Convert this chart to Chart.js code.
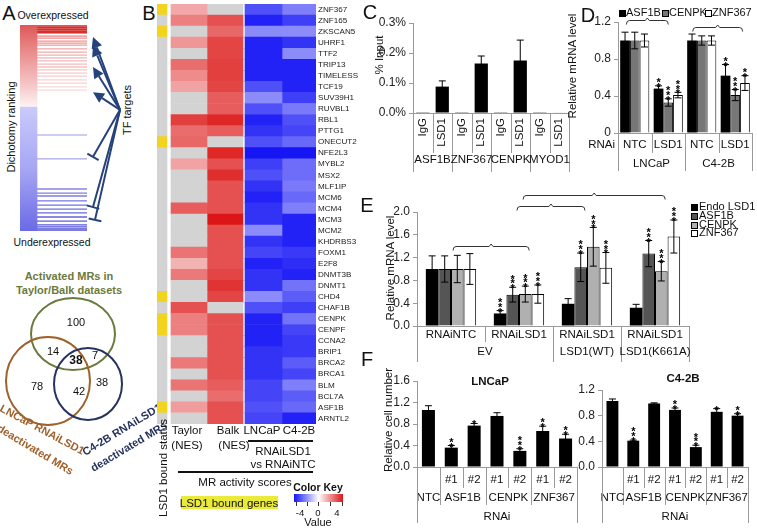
<!DOCTYPE html>
<html><head><meta charset="utf-8">
<script src="https://cdn.jsdelivr.net/npm/chart.js@4.4.1/dist/chart.umd.min.js"></script>
<style>
html,body{margin:0;padding:0;background:#fff}
#root{position:relative;width:757px;height:529px;overflow:hidden;font-family:'Liberation Sans',Arial,sans-serif;color:#111}
canvas{position:absolute}
.t{position:absolute;white-space:nowrap;line-height:1.05}
.hl{position:absolute;background:#111}
</style></head><body><div id="root"></div>
<script>
// ================= DATA =================
// Panel A: dichotomy ranking (rank 0 = most overexpressed, 500 = most underexpressed)
const tfTargetRanksUp = [2,5,7,10,12,15,17,19,27,32,39,44,49,58,66,73,80,87,95,102,109,117,124,133,141,150,158];
const tfTargetRanksDown = [267,325,398,408,415,427,437,447,456,466,476,485,490,495,498];
const tfArrowRanks = [29,49,102,163];       // activated targets (arrow heads)
const tfRepressRanks = [320,442,473];       // repressed targets (T bars)
// Panel B heatmap
const genes = ['ZNF367','ZNF165','ZKSCAN5','UHRF1','TTF2','TRIP13','TIMELESS','TCF19','SUV39H1','RUVBL1','RBL1','PTTG1','ONECUT2','NFE2L3','MYBL2','MSX2','MLF1IP','MCM6','MCM4','MCM3','MCM2','KHDRBS3','FOXM1','E2F8','DNMT3B','DNMT1','CHD4','CHAF1B','CENPK','CENPF','CCNA2','BRIP1','BRCA2','BRCA1','BLM','BCL7A','ASF1B','ARNTL2'];
const lsd1Bound = [1,0,1,0,0,0,0,0,0,0,0,0,1,0,0,0,0,0,0,0,0,0,0,0,0,0,1,0,1,1,0,0,0,0,0,0,1,0];
const taylorNES = [1.5,2.2,null,1.8,null,2.5,2.0,1.6,null,null,3.3,2.5,2.6,null,1.6,null,null,null,2.8,null,null,null,2.4,1.3,2.3,null,null,3.0,2.2,2.2,null,null,2.3,null,2.4,null,1.7,null];
const balkNES = [null,3.0,2.6,3.2,3.2,3.3,3.3,3.2,2.8,2.8,3.7,2.8,null,3.7,3.0,3.6,3.0,3.0,3.0,4.0,3.0,3.0,3.0,3.0,3.2,3.5,3.2,null,3.0,3.0,3.0,3.0,3.0,3.0,2.8,2.5,3.0,3.0];
const lncapScore = [-3.0,-3.8,-2.0,-3.8,-3.8,-3.8,-3.8,-3.0,-2.0,-3.0,-3.8,-3.5,-3.0,-4.0,-3.3,-3.0,-3.5,-3.8,-3.5,-3.5,-2.0,-3.5,-3.2,-3.8,-3.5,-3.5,-2.0,-3.0,-3.8,-3.8,-3.8,-3.5,-3.5,-3.5,-3.2,-3.2,-3.0,-3.2];
const c42bScore = [-2.2,-3.3,-2.0,-3.5,-2.0,-3.8,-3.8,-3.8,-3.3,-2.3,-3.0,-3.2,-2.6,-4.0,-2.5,-2.5,-2.3,-2.6,-2.2,-3.8,-3.8,-3.8,-3.4,-3.6,-3.8,-2.4,-2.8,-3.3,-2.4,-3.2,-3.4,-3.4,-2.8,-3.2,-2.2,-2.8,-2.6,-3.8];
// Venn counts: T only, T&L, all, T&C, L only, L&C, C only
const vennCounts = [100,14,38,7,78,42,38];
// Panel C: ChIP
const chipTargets = ['ASF1B','ZNF367','CENPK','MYOD1'];
const chipAntibodies = ['IgG','LSD1','IgG','LSD1','IgG','LSD1','IgG','LSD1'];
const chipInput = [0.0008,0.088,0.0008,0.165,0.0008,0.175,0.0008,0.0015];
const chipErr = [0,0.019,0,0.025,0,0.068,0,0];
// Panel D
const dRnai = ['NTC','LSD1','NTC','LSD1'];
const dCells = ['LNCaP','C4-2B'];
const dASF1B = [1.0,0.48,1.0,0.62], dASF1BErr = [0.09,0.03,0.07,0.12], dASF1BStars = [0,2,0,2];
const dCENPK = [1.0,0.33,1.0,0.41], dCENPKErr = [0.09,0.04,0.05,0.06], dCENPKStars = [0,3,0,3];
const dZNF367 = [1.0,0.41,1.0,0.54], dZNF367Err = [0.07,0.03,0.05,0.08], dZNF367Stars = [0,3,0,2];
// Panel E
const eConditions = ['RNAiNTC','RNAiLSD1','RNAiLSD1','RNAiLSD1'];
const eVectors = ['EV','LSD1(WT)','LSD1(K661A)'];
const eEndo = [1.0,0.22,0.39,0.32], eEndoErr = [0.23,0.05,0.09,0.06], eEndoStars = [0,3,0,0];
const eASF1B = [1.0,0.55,1.03,1.27], eASF1BErr = [0.23,0.13,0.25,0.23], eASF1BStars = [0,3,3,3];
const eCENPK = [1.0,0.56,1.39,0.96], eCENPKErr = [0.24,0.14,0.34,0.17], eCENPKStars = [0,3,3,3];
const eZNF367 = [1.0,0.56,1.02,1.57], eZNF367Err = [0.27,0.16,0.27,0.29], eZNF367Stars = [0,3,3,3];
// Panel F
const fGenes = ['NTC','ASF1B','ASF1B','CENPK','CENPK','ZNF367','ZNF367'];
const fShRNA = ['','#1','#2','#1','#2','#1','#2'];
const fLNCaP = [1.06,0.36,0.77,0.95,0.30,0.67,0.53], fLNCaPErr = [0.08,0.04,0.04,0.06,0.04,0.09,0.08], fLNCaPStars = [0,2,1,0,3,2,2];
const fC42B = [1.03,0.41,0.99,0.89,0.31,0.86,0.80], fC42BErr = [0.03,0.01,0.01,0.03,0.03,0.05,0.03], fC42BStars = [0,3,0,2,3,1,2];

// ================= HELPERS =================
const FONT = "'Liberation Sans', Arial, sans-serif";
Chart.defaults.font.family = FONT;
Chart.defaults.color = '#222';
const root = document.getElementById('root');
function canvasAt(l,t,w,h){const c=document.createElement('canvas');c.width=w;c.height=h;c.style.left=l+'px';c.style.top=t+'px';c.style.width=w+'px';c.style.height=h+'px';root.appendChild(c);return c;}
function T(str,x,y,o={}){const d=document.createElement('div');d.className='t';d.textContent=str;d.style.left=x+'px';d.style.top=y+'px';d.style.fontSize=(o.size||11.5)+'px';if(o.bold)d.style.fontWeight='bold';if(o.color)d.style.color=o.color;const ax=o.align==='left'?'0':o.align==='right'?'-100%':'-50%';d.style.transform=`translate(${ax},-50%) rotate(${o.rot||0}deg)`;root.appendChild(d);return d;}
function HL(x,y,w,h,c){const d=document.createElement('div');d.className='hl';d.style.left=x+'px';d.style.top=y+'px';d.style.width=w+'px';d.style.height=h+'px';if(c)d.style.background=c;root.appendChild(d);return d;}
function mix(a,b,t){return 'rgb('+a.map((v,i)=>Math.round(v+(b[i]-v)*t)).join(',')+')';}
function heatColor(v){if(v===null)return '#d3d3d3';const t=Math.min(Math.abs(v)/4,1);return v>=0?mix([255,255,255],[220,22,22],t):mix([255,255,255],[22,22,245],t);}

const errPlugin={id:'errStars',afterDatasetsDraw(chart){
  const ctx=chart.ctx,y=chart.scales.y;
  chart.data.datasets.forEach((ds,di)=>{
    const meta=chart.getDatasetMeta(di);
    meta.data.forEach((bar,i)=>{
      const v=ds.data[i],e=(ds.errors||[])[i]||0,x=bar.x;
      ctx.save();ctx.strokeStyle='#000';ctx.lineWidth=1;
      if(e>0){const yt=y.getPixelForValue(v+e),yb=y.getPixelForValue(v-e),cw=3.5;
        ctx.beginPath();ctx.moveTo(x,yt);ctx.lineTo(x,yb);ctx.moveTo(x-cw,yt);ctx.lineTo(x+cw,yt);ctx.moveTo(x-cw,yb);ctx.lineTo(x+cw,yb);ctx.stroke();}
      const n=(ds.stars||[])[i]||0;
      if(n){ctx.fillStyle='#000';ctx.font='bold 11px '+FONT;ctx.textAlign='center';ctx.textBaseline='alphabetic';
        const top=y.getPixelForValue(v+e);
        for(let k=0;k<n;k++)ctx.fillText('*',x,top+6-4.8*k-1);}
      ctx.restore();
    });
  });
}};
function tablePlugin(spec){return{id:'xtable',afterDraw(chart){
  const ctx=chart.ctx,xs=chart.scales.x,ca=chart.chartArea;
  const w=xs.getPixelForValue(1)-xs.getPixelForValue(0);
  const edge=i=>xs.getPixelForValue(0)+(i-0.5)*w;
  ctx.save();ctx.strokeStyle='#9a9a9a';ctx.lineWidth=1;
  ctx.beginPath();ctx.moveTo(ca.left,ca.bottom+0.5);ctx.lineTo(ca.right,ca.bottom+0.5);ctx.stroke();
  spec.rows.forEach(r=>{
    r.bounds.forEach(b=>{const x=Math.round(edge(b))+0.5;ctx.beginPath();ctx.moveTo(x,ca.bottom);ctx.lineTo(x,ca.bottom+r.lineTo);ctx.stroke();});
    ctx.fillStyle='#111';ctx.font=(r.size||11.5)+'px '+FONT;
    r.cells.forEach(c=>{const cx=(edge(c.from)+edge(c.to))/2,cy=ca.bottom+r.dy;
      if(r.rot){ctx.save();ctx.translate(cx,cy);ctx.rotate(-Math.PI/2);ctx.textAlign='right';ctx.textBaseline='middle';ctx.fillText(c.text,0,0);ctx.restore();}
      else{ctx.textAlign='center';ctx.textBaseline='middle';ctx.fillText(c.text,cx,cy);}});
  });
  (spec.extra||[]).forEach(e=>{ctx.font='11.5px '+FONT;ctx.textAlign='right';ctx.textBaseline='middle';ctx.fillText(e.text,ca.left+e.dx,ca.bottom+e.dy);});
  ctx.restore();
}};}
function bracketPlugin(list){return{id:'brackets',afterDraw(chart){
  const ctx=chart.ctx,xs=chart.scales.x,y=chart.scales.y;
  const w=xs.getPixelForValue(1)-xs.getPixelForValue(0);
  const cx=f=>xs.getPixelForValue(0)+f*w;
  ctx.save();ctx.strokeStyle='#333';ctx.lineWidth=1;
  list.forEach(b=>{const x0=cx(b.from),x1=cx(b.to),yy=Math.round(y.getPixelForValue(b.v))+0.5,m=(x0+x1)/2;
    ctx.beginPath();ctx.moveTo(x0,yy+4);ctx.quadraticCurveTo(x0,yy,x0+3,yy);ctx.lineTo(m-2,yy);ctx.lineTo(m,yy-2.5);ctx.lineTo(m+2,yy);ctx.lineTo(x1-3,yy);ctx.quadraticCurveTo(x1,yy,x1,yy+4);ctx.stroke();});
  ctx.restore();
}};}
function barPanel(o){
  const cv=canvasAt(o.box[0],o.box[1],o.box[2],o.box[3]);
  return new Chart(cv,{type:'bar',data:{labels:o.labels,datasets:o.datasets},
    options:{responsive:false,devicePixelRatio:1,animation:false,
      layout:{padding:{top:o.padT||12,right:o.padR,bottom:o.padB,left:0}},
      datasets:{bar:{categoryPercentage:o.catPct,barPercentage:o.barPct}},
      scales:{x:{display:false},
        y:{min:0,max:o.ymax,afterFit:s=>{s.width=o.yw;},
          ticks:{stepSize:o.step,callback:o.fmt,font:{size:o.fs||12},color:'#222',padding:3},
          grid:{drawOnChartArea:false,drawTicks:true,tickLength:4,color:'#9a9a9a'},border:{display:true,color:'#9a9a9a'}}},
      plugins:{legend:{display:false},tooltip:{enabled:false}}},
    plugins:[errPlugin,tablePlugin(o.table),bracketPlugin(o.brackets||[])]});
}
function ds(label,data,err,stars,color){return {label,data,errors:err,stars,backgroundColor:color,borderColor:'#000',borderWidth:color==='#000'?0:1};}

// ================= PANEL A =================
T('A',9,13,{size:20});
T('Overexpressed',53,16,{size:10.5});
T('Underexpressed',52,243,{size:10.5});
T('Dichotomy ranking',12,127,{size:11,rot:-90});
T('TF targets',128,110,{size:11,rot:-90});
(function(){
  const cv=canvasAt(10,13,120,230);
  const origin={x:100,rank:206};
  const arrowsPlugin={id:'tfArrows',afterDatasetsDraw(chart){
    const {ctx,scales:{x,y}}=chart;const ox=x.getPixelForValue(origin.x),oy=y.getPixelForValue(origin.rank);
    ctx.save();ctx.strokeStyle=ctx.fillStyle='#26427c';ctx.lineWidth=2;
    const items=tfArrowRanks.map(r=>({r,act:true,tx:73})).concat(tfRepressRanks.map((r,i)=>({r,act:false,tx:[73,73,75][i]})));
    items.forEach(a=>{const tx=x.getPixelForValue(a.tx),ty=y.getPixelForValue(a.r),ang=Math.atan2(ty-oy,tx-ox),s=Math.sin(ang),c=Math.cos(ang);
      ctx.beginPath();ctx.moveTo(ox,oy);
      if(a.act){const L=11,W=5.5,bx=tx-L*c,by=ty-L*s;ctx.lineTo(bx,by);ctx.stroke();ctx.beginPath();ctx.moveTo(tx,ty);ctx.lineTo(bx+W*s,by-W*c);ctx.lineTo(bx-W*s,by+W*c);ctx.closePath();ctx.fill();}
      else{ctx.lineTo(tx,ty);ctx.stroke();const W=6.5;ctx.beginPath();ctx.moveTo(tx+W*s,ty-W*c);ctx.lineTo(tx-W*s,ty+W*c);ctx.stroke();}});
    ctx.restore();}};
  const lineColor=r=>r<199?(r<22?'rgb(212,32,32)':mix([232,120,120],[252,236,236],Math.pow((r-22)/177,0.6))):mix([205,205,245],[80,80,215],Math.pow((r-199)/301,1.3));
  const pts=tfTargetRanksUp.concat(tfTargetRanksDown);
  new Chart(cv,{type:'bar',data:{datasets:[
    {type:'bar',data:[{x:8.5,y:[0,500]}],barThickness:17,backgroundColor:(c)=>{const ch=c.chart,ys=ch.scales.y;if(!ys||!ch.chartArea)return '#ccc';
      const g=ch.ctx.createLinearGradient(0,ys.getPixelForValue(0),0,ys.getPixelForValue(500));
      g.addColorStop(0,'#de5858');g.addColorStop(0.12,'#e88888');g.addColorStop(0.3,'#f6caca');g.addColorStop(0.395,'#fdf2f2');g.addColorStop(0.398,'#cacafb');g.addColorStop(0.7,'#a6a6f4');g.addColorStop(1,'#6a6ae6');return g;}},
    {type:'scatter',data:pts.map(r=>({x:42,y:r})),pointStyle:'line',pointRadius:25,pointBorderWidth:1.3,pointBorderColor:pts.map(lineColor),clip:false}
  ]},options:{responsive:false,devicePixelRatio:1,animation:false,layout:{autoPadding:false,padding:{top:12,bottom:12,left:10,right:0}},
    scales:{x:{type:'linear',min:0,max:110,offset:false,display:false,grid:{offset:false}},y:{type:'linear',min:0,max:500,reverse:true,offset:false,beginAtZero:false,display:false}},
    plugins:{legend:{display:false},tooltip:{enabled:false}}},plugins:[arrowsPlugin]});
})();

// Venn
T('Activated MRs in',69,277,{size:11,bold:true,color:'#6b7a3d'});
T('Taylor/Balk datasets',69,291,{size:11,bold:true,color:'#6b7a3d'});
(function(){
  const cv=canvasAt(0,270,160,259);
  const sets=[{cx:73,cy:334,rx:42,ry:36,c:'#6b7a3d'},{cx:48,cy:381,rx:42,ry:44,c:'#a0612b'},{cx:88,cy:384,rx:34,ry:36,c:'#27335e'}];
  const labelPos=[[76,323],[53,352],[76,361],[95,356],[37,387],[79,392],[102,383]];
  const vennPlugin={id:'venn',afterDatasetsDraw(chart){const {ctx,scales:{x,y}}=chart;ctx.save();ctx.lineWidth=2;
    sets.forEach(s=>{ctx.strokeStyle=s.c;ctx.beginPath();ctx.ellipse(x.getPixelForValue(s.cx),y.getPixelForValue(s.cy),x.getPixelForValue(s.cx+s.rx)-x.getPixelForValue(s.cx),y.getPixelForValue(s.cy+s.ry)-y.getPixelForValue(s.cy),0,0,Math.PI*2);ctx.stroke();});
    const meta=chart.getDatasetMeta(0);ctx.fillStyle='#111';ctx.textAlign='center';ctx.textBaseline='middle';
    meta.data.forEach((p,i)=>{ctx.font=(i===2?'bold 12px ':'11px ')+FONT;ctx.fillText(String(vennCounts[i]),p.x,p.y);});ctx.restore();}};
  new Chart(cv,{type:'scatter',data:{datasets:[{data:labelPos.map(p=>({x:p[0],y:p[1]})),pointRadius:0}]},
    options:{responsive:false,devicePixelRatio:1,animation:false,layout:{autoPadding:false,padding:0},
      scales:{x:{type:'linear',min:0,max:160,display:false},y:{type:'linear',min:270,max:529,reverse:true,display:false}},
      plugins:{legend:{display:false},tooltip:{enabled:false}}},plugins:[vennPlugin]});
})();
T('LNCaP RNAiLSD1',42,430,{size:11,bold:true,color:'#a0612b',rot:28});
T('deactivated MRs',35,450,{size:11,bold:true,color:'#a0612b',rot:31});
T('C4-2B RNAiLSD1',122,430,{size:11,bold:true,color:'#27335e',rot:-31});
T('deactivated MRs',129,447,{size:11,bold:true,color:'#27335e',rot:-31});

// ================= PANEL B =================
T('B',149,13,{size:20});
(function(){
  const cv=canvasAt(150,-4,210,436);
  const cols=[[0,1.0],[1.4,5.0],[5.0,8.6],[8.8,12.5],[12.5,15.9]];
  const mk=(span,colors)=>({data:genes.map(()=>span),backgroundColor:colors,borderWidth:0});
  new Chart(cv,{type:'bar',data:{labels:genes,datasets:[
    mk(cols[0],lsd1Bound.map(b=>b?'#f2d31e':'#d3d3d3')),
    mk(cols[1],taylorNES.map(heatColor)),
    mk(cols[2],balkNES.map(heatColor)),
    mk(cols[3],lncapScore.map(heatColor)),
    mk(cols[4],c42bScore.map(heatColor))]},
    options:{indexAxis:'y',responsive:false,devicePixelRatio:1,animation:false,
      layout:{padding:{top:8,bottom:8,left:7,right:0}},
      datasets:{bar:{grouped:false,categoryPercentage:1,barPercentage:1}},
      scales:{x:{type:'linear',min:0,max:15.9,display:false},
        y:{position:'right',afterFit:s=>{s.width=44;},grid:{display:false,drawTicks:false},border:{display:false},
          ticks:{autoSkip:false,padding:2,font:{size:8.1},color:'#222'}}},
      plugins:{legend:{display:false},tooltip:{enabled:false}}}});
})();
T('Taylor',187,430,{size:11.5});T('(NES)',187,445,{size:11.5});
T('Balk',228,430,{size:11.5});T('(NES)',234,445,{size:11.5});
T('LNCaP',262,430,{size:11.5});T('C4-2B',299,430,{size:11.5});
HL(248,440,65,1.5);
T('RNAiLSD1',283,451,{size:11.5});T('vs RNAiNTC',283,464,{size:11.5});
HL(178,471,135,1.5);
T('MR activity scores',245,482,{size:11.5});
T('LSD1 bound status',163,468,{size:11.5,rot:-90});
HL(181,496,97,13,'#eaea3a');
T('LSD1 bound genes',229,503,{size:11.5});
T('Color Key',318,488,{size:10.5,bold:true});
(function(){const d=HL(294,494,49,8);d.style.background='linear-gradient(to right,#1616f5,#ffffff 50%,#dc1616)';
  [296,307,318,330,342].forEach(x=>HL(x,502,1,4,'#333'));})();
T('-4',300,513,{size:9.5});T('0',318,513,{size:9.5});T('4',337,513,{size:9.5});
T('Value',318,523,{size:11});

// ================= PANEL C =================
T('C',370,12,{size:20});
T('% Input',379,55,{size:11.5,rot:-90});
barPanel({box:[360,11,215,167],padR:6,padB:65,yw:53,ymax:0.3,step:0.1,fmt:v=>(v).toFixed(1)+'%',catPct:1,barPct:0.68,
  labels:chipAntibodies,datasets:[ds('ChIP',chipInput,chipErr,[],'#000')],
  table:{rows:[
    {dy:5,rot:true,lineTo:40,bounds:[0,1,2,3,4,5,6,7,8],cells:chipAntibodies.map((t,i)=>({from:i,to:i+1,text:t}))},
    {dy:47,lineTo:59,bounds:[0,2,4,6,8],cells:chipTargets.map((t,i)=>({from:2*i,to:2*i+2,text:t}))}]}});

// ================= PANEL D =================
T('D',588,15,{size:20});
T('Relative mRNA level',572,66,{size:11.5,rot:-90});
(function(){const items=[['#000','ASF1B',619],['#777','CENPK',662],['#fff','ZNF367',705]];
  items.forEach(([c,t,x])=>{const s=HL(x,10,5,5,c);s.style.border='1px solid #000';T(t,x+7,13,{size:11,align:'left'});});})();
barPanel({box:[560,4,197,174],padT:18,padR:5,padB:45,yw:58,ymax:1.2,step:0.4,fmt:v=>v===0?'0':v.toFixed(1),catPct:0.87,barPct:1,
  labels:dRnai,datasets:[ds('ASF1B',dASF1B,dASF1BErr,dASF1BStars,'#000'),ds('CENPK',dCENPK,dCENPKErr,dCENPKStars,'#777'),ds('ZNF367',dZNF367,dZNF367Err,dZNF367Stars,'#fff')],
  table:{rows:[
    {dy:12,lineTo:20,bounds:[0,1,2,3,4],cells:dRnai.map((t,i)=>({from:i,to:i+1,text:t}))},
    {dy:31,lineTo:38,bounds:[0,2,4],cells:dCells.map((t,i)=>({from:2*i,to:2*i+2,text:t}))}],
    extra:[{text:'RNAi',dx:-3,dy:12}]},
  brackets:[{from:-0.25,to:1.0,v:1.22},{from:1.73,to:3.22,v:1.145}]});

// ================= PANEL E =================
T('E',367,205,{size:20});
T('Relative mRNA level',390,268,{size:11.5,rot:-90});
(function(){const items=[['#000','Endo LSD1'],['#555','ASF1B'],['#b0b0b0','CENPK'],['#fff','ZNF367']];
  items.forEach(([c,t],i)=>{const y=207+i*8.8;const s=HL(691,y-3,5,5,c);s.style.border='1px solid #000';T(t,699,y,{size:11,align:'left'});});})();
barPanel({box:[360,186,335,180],padT:26,padR:6,padB:40,yw:57,ymax:2.0,step:0.4,fmt:v=>v.toFixed(1),catPct:0.74,barPct:1,
  labels:eConditions,datasets:[ds('Endo LSD1',eEndo,eEndoErr,eEndoStars,'#000'),ds('ASF1B',eASF1B,eASF1BErr,eASF1BStars,'#555'),ds('CENPK',eCENPK,eCENPKErr,eCENPKStars,'#b0b0b0'),ds('ZNF367',eZNF367,eZNF367Err,eZNF367Stars,'#fff')],
  table:{rows:[
    {dy:9,lineTo:16,bounds:[0,1,2,3,4],cells:eConditions.map((t,i)=>({from:i,to:i+1,text:t}))},
    {dy:26,lineTo:36,bounds:[0,2,3,4],cells:[{from:0,to:2,text:eVectors[0]},{from:2,to:3,text:eVectors[1]},{from:3,to:4,text:eVectors[2]}]}]},
  brackets:[{from:0.03,to:1.15,v:1.40},{from:0.97,to:1.97,v:2.105},{from:1.06,to:3.15,v:2.30}]});

// ================= PANEL F =================
T('F',367,359,{size:20});
T('Relative cell number',388,420,{size:11.5,rot:-90});
T('LNCaP',490,381,{size:11.5,bold:true});
T('C4-2B',683,378,{size:11.5,bold:true});
function fTable(){return{rows:[
  {dy:13,lineTo:21,bounds:[1,2,3,4,5,6,7],cells:fShRNA.map((t,i)=>({from:i,to:i+1,text:t})).filter(c=>c.text)},
  {dy:31,lineTo:38,bounds:[0,1,3,5,7],cells:[{from:0,to:1,text:fGenes[0]},{from:1,to:3,text:fGenes[1]},{from:3,to:5,text:fGenes[3]},{from:5,to:7,text:fGenes[5]}]},
  {dy:50,lineTo:56,bounds:[0,7],cells:[{from:0,to:7,text:'RNAi'}]}]};}
barPanel({box:[360,369,223,160],padR:6,padB:62,yw:57,ymax:1.6,step:0.4,fmt:v=>v.toFixed(1),catPct:1,barPct:0.57,
  labels:fGenes.map((g,i)=>g+fShRNA[i]),datasets:[ds('LNCaP',fLNCaP,fLNCaPErr,fLNCaPStars,'#000')],table:fTable()});
barPanel({box:[575,378,182,151],padR:9,padB:62,yw:27,ymax:1.2,step:0.4,fmt:v=>v.toFixed(1),catPct:1,barPct:0.57,
  labels:fGenes.map((g,i)=>g+fShRNA[i]),datasets:[ds('C4-2B',fC42B,fC42BErr,fC42BStars,'#000')],table:fTable()});
</script></body></html>
